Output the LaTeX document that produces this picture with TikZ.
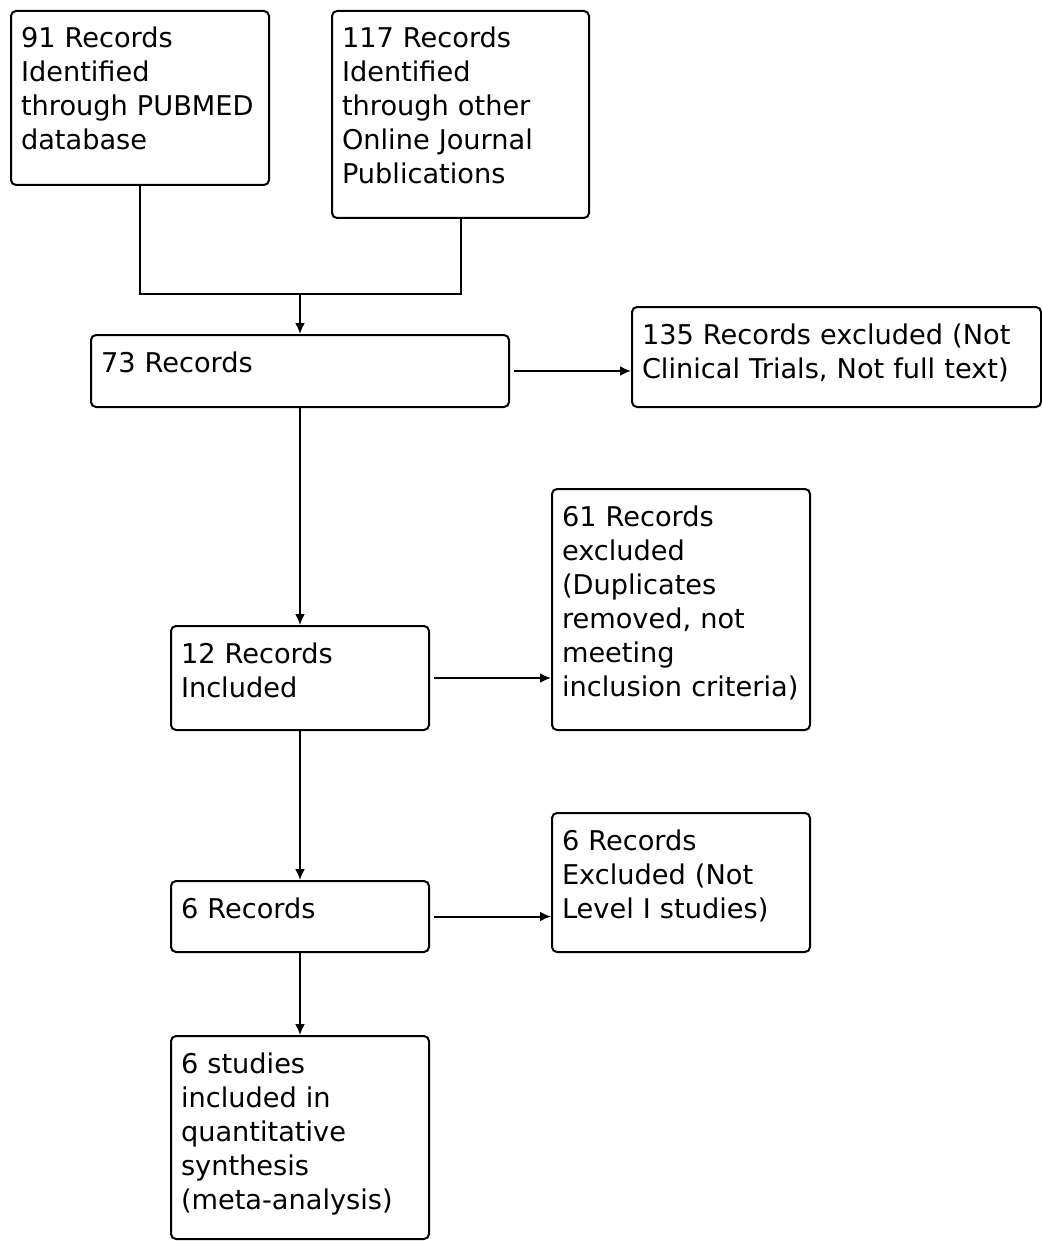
\documentclass[tikz,border=0pt]{standalone}
\usepackage{fontspec}
\setmainfont{DejaVu Sans}
\usetikzlibrary{arrows.meta}

\tikzset{
    rec/.style={draw, line width=1pt, rounded corners=2.5pt, anchor=north west,
        align=left, inner xsep=5pt, inner ysep=4pt, text height=14.5pt, text depth=#1,
        font=\fontsize{13.6}{17}\selectfont},
    flow/.style={line width=1pt, -{Latex[length=5.5pt, width=5pt]}},
    link/.style={line width=1pt}
}

\begin{document}
\begin{tikzpicture}[x=0.5pt, y=-0.5pt]

    \useasboundingbox (0,0) rectangle (1041,1241);

    %% Identification

    % Sources
    \node[rec=64.5pt, text width=119pt] (pubmed) at (10,10)
        {91 Records\\Identified\\through PUBMED\\database};
    \node[rec=81pt, text width=118.5pt] (online) at (331,10)
        {117 Records\\Identified\\through other\\Online Journal\\Publications};

    % Screening
    \node[rec=13.5pt, text width=199pt] (all) at (90,334) {73 Records};
    \node[rec=27.5pt, text width=194.5pt] (notct) at (631,306)
        {135 Records excluded (Not\\Clinical Trials, Not full text)};

    % Eligibility
    \node[rec=29.5pt, text width=119pt] (incl) at (170,625) {12 Records\\Included};
    \node[rec=98pt, text width=119pt] (dupl) at (551,488)
        {61 Records\\excluded\\(Duplicates\\removed, not\\meeting\\inclusion criteria)};

    \node[rec=13pt, text width=119pt] (six) at (170,880) {6 Records};
    \node[rec=47pt, text width=119pt] (notlvl) at (551,812)
        {6 Records\\Excluded (Not\\Level I studies)};

    % Included
    \node[rec=79pt, text width=119pt] (meta) at (170,1035)
        {6 studies\\included in\\quantitative\\synthesis\\(meta-analysis)};

    %% Connectors

    % Merge of the two sources
    \coordinate (join) at (300,294);
    \draw[link] (pubmed.south) -- (pubmed.south |- join) -- (online.south |- join) -- (online.south);
    \draw[flow] (join) -- (all.north);

    % Down the main line
    \draw[flow] (all.south) -- (incl.north);
    \draw[flow] (incl.south) -- (six.north);
    \draw[flow] (six.south) -- (meta.north);

    % Exclusions
    \draw[flow, shorten <=2pt] (all.east) -- (all.east -| notct.west);
    \draw[flow, shorten <=2pt] (incl.east) -- (incl.east -| dupl.west);
    \draw[flow, shorten <=2pt] (six.east) -- (six.east -| notlvl.west);

\end{tikzpicture}
\end{document}
